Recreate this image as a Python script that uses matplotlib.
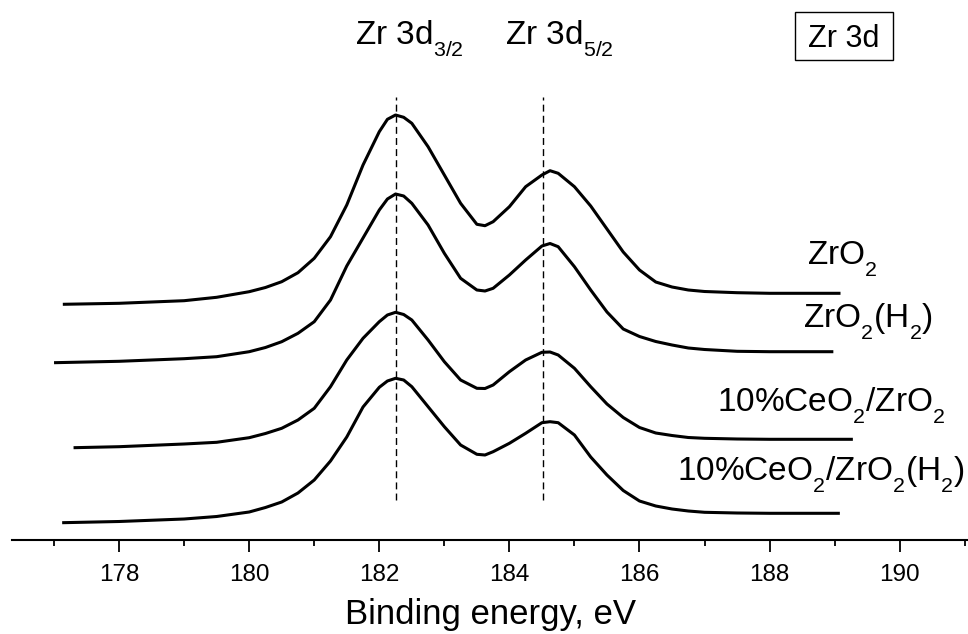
import numpy as np
import matplotlib
matplotlib.use("Agg")
import matplotlib.pyplot as plt
from matplotlib.patches import Rectangle
import matplotlib._mathtext as mt

plt.rcParams['font.family'] = ['Liberation Sans', 'DejaVu Sans']
plt.rcParams['mathtext.fontset'] = 'custom'
plt.rcParams['mathtext.rm'] = 'Liberation Sans'
plt.rcParams['mathtext.it'] = 'Liberation Sans:italic'
plt.rcParams['mathtext.bf'] = 'Liberation Sans:bold'
# Origin-style subscripts: smaller and dropped lower
mt.SHRINK_FACTOR = 0.64
mt.FontConstantsBase.sub1 = 0.68

# ---------------- data (binding energy, eV ; intensity, a.u., stacked) -------------
x_zro2 = [177.135, 178, 179, 179.5, 180, 180.25, 180.5, 180.75, 181, 181.25, 181.5, 181.75, 182,
          182.125, 182.25, 182.375, 182.5, 182.75, 183, 183.25, 183.5, 183.625, 183.75,
          184, 184.25, 184.5, 184.625, 184.75, 185, 185.25, 185.5, 185.75, 186, 186.25, 186.5,
          186.75, 187, 187.5, 188, 189.09]
y_zro2 = [235.7, 236.7, 239.3, 242.7, 248.3, 252.5, 258.3, 267.3, 281.7, 303.3, 335, 375, 408.3,
          420.7, 425, 422.7, 416.7, 393.3, 365, 336.7, 315.7, 314.3, 318.3,
          333.3, 353.3, 365, 369.3, 366.7, 353.3, 334, 311, 288, 270, 258, 253,
          250, 248.5, 247.3, 246.7, 246.7]

x_zro2_h2 = [177.0, 178, 179, 179.5, 180, 180.25, 180.5, 180.75, 181, 181.25, 181.5, 181.75, 182,
             182.125, 182.25, 182.375, 182.5, 182.75, 183, 183.25, 183.5, 183.625, 183.75,
             184, 184.25, 184.5, 184.625, 184.75, 185, 185.25, 185.5, 185.75, 186, 186.25, 186.5,
             186.75, 187, 187.5, 188, 188.98]
y_zro2_h2 = [177.3, 178.7, 181.3, 183.3, 188.3, 192.5, 198.3, 206.7, 218.3, 240, 274, 302, 330,
             341, 346, 344, 336.7, 315, 286.7, 261.7, 250, 249, 251.7,
             265, 280, 294, 296.5, 293.3, 273.3, 250, 228, 211, 203.5, 198.5, 195,
             192, 190.5, 188.7, 188.3, 188.3]

x_ce = [177.30, 178, 179, 179.5, 180, 180.25, 180.5, 180.75, 181, 181.25, 181.5, 181.75, 182,
        182.125, 182.25, 182.375, 182.5, 182.75, 183, 183.25, 183.5, 183.625, 183.75,
        184, 184.25, 184.5, 184.625, 184.75, 185, 185.25, 185.5, 185.75, 186, 186.25, 186.5,
        186.75, 187, 187.5, 188, 189.28]
y_ce = [92.3, 93.3, 96, 97.7, 102.3, 106.5, 111.7, 120, 131.7, 153.3, 180, 201.7, 218.3,
        225, 227.7, 225.5, 220, 200, 178.3, 160, 151.7, 151.5, 155,
        168.3, 180, 187.7, 188, 185, 171.7, 153.3, 136, 122.5, 112.5, 107, 104.5,
        102.5, 101.7, 101, 100.7, 100.7]

x_ce_h2 = [177.125, 178, 179, 179.5, 180, 180.25, 180.5, 180.75, 181, 181.25, 181.5, 181.75, 182,
           182.125, 182.25, 182.375, 182.5, 182.75, 183, 183.25, 183.5, 183.625, 183.75,
           184, 184.25, 184.5, 184.625, 184.75, 185, 185.25, 185.5, 185.75, 186, 186.25, 186.5,
           186.75, 187, 187.5, 188, 189.08]
y_ce_h2 = [17.3, 18.5, 21, 23.5, 28, 32.5, 38, 47, 60, 79, 103, 133, 152.7,
           159, 161.7, 160, 153.3, 133.3, 113.3, 95, 85.7, 85, 88.3,
           96.7, 106.7, 117.3, 118.3, 117.3, 105, 83, 65, 49.5, 39, 34, 31,
           29, 27.7, 27, 26.7, 26.7]

peak_positions = [182.25, 184.52]
peak_labels = ['Zr 3d$_{3/2}$', 'Zr 3d$_{5/2}$']
sample_labels = ['ZrO$_2$', 'ZrO$_2$(H$_2$)', '10%CeO$_2$/ZrO$_2$', '10%CeO$_2$/ZrO$_2$(H$_2$)']
major_ticks = [178, 180, 182, 184, 186, 188, 190]
minor_ticks = [177, 179, 181, 183, 185, 187, 189, 191]

# ---------------- figure -------------
W, H = 968, 634
fig = plt.figure(figsize=(W / 100, H / 100), dpi=100)
ax = fig.add_axes([12.4 / W, 94 / H, 1 - 12.4 / W, 540 / H])
ax.set_xlim(176.36, 191.05)
ax.set_ylim(0, 540)

for xs, ys in [(x_zro2, y_zro2), (x_zro2_h2, y_zro2_h2), (x_ce, y_ce), (x_ce_h2, y_ce_h2)]:
    ax.plot(xs, ys, color='black', lw=2.2, solid_joinstyle='round', solid_capstyle='butt')

for xp in peak_positions:
    ax.plot([xp, xp], [40, 443], color='black', lw=1.0, dashes=(5, 3))

# peak labels
ax.text(181.63, 495, peak_labels[0], fontsize=24, ha='left', va='baseline')
ax.text(183.93, 495, peak_labels[1], fontsize=24, ha='left', va='baseline')
ax.text(188.59, 493.3, 'Zr 3d', fontsize=22, ha='left', va='baseline')
fig.add_artist(Rectangle((795 / W, 1 - 60 / H), 98 / W, 48 / H, transform=fig.transFigure,
                         fill=False, edgecolor='black', lw=1.0))

# sample labels
label_pos = [(188.57, 275), (188.51, 212), (187.19, 128.3), (186.58, 59.3)]
for (lx, ly), txt in zip(label_pos, sample_labels):
    ax.text(lx, ly, txt, fontsize=24, ha='left', va='baseline')

# axes styling
for s in ['left', 'right', 'top']:
    ax.spines[s].set_visible(False)
ax.spines['bottom'].set_linewidth(1.5)
ax.set_yticks([])
ax.set_xticks(major_ticks)
ax.set_xticks(minor_ticks, minor=True)
ax.tick_params(axis='x', which='major', direction='out', length=8.5, width=1.3,
               labelsize=17.5, pad=8.6)
ax.tick_params(axis='x', which='minor', direction='out', length=4.5, width=1.3)
ax.set_xlabel('Binding energy, eV', fontsize=25, labelpad=9)

fig.savefig('out.png', dpi=100)
